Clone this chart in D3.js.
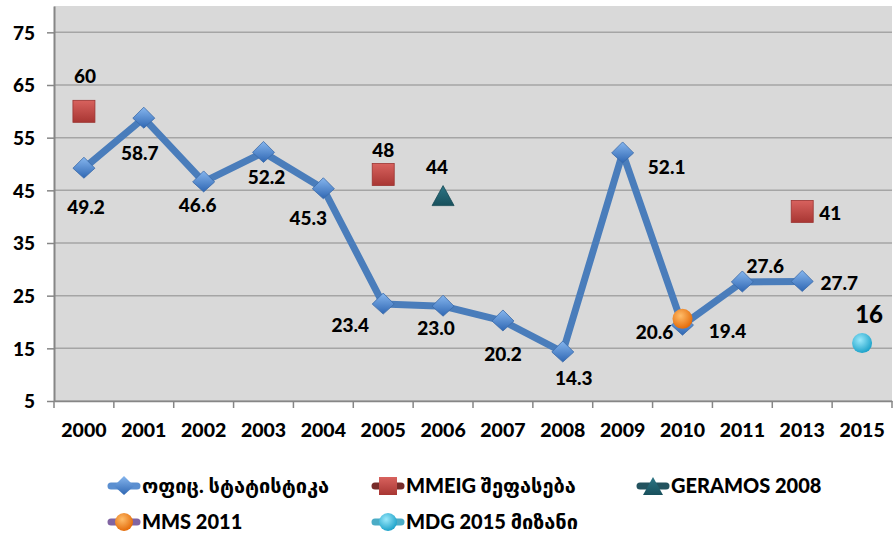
<!DOCTYPE html>
<html>
<head>
<meta charset="utf-8">
<script src="https://cdn.jsdelivr.net/npm/d3@7"></script>
<style>
  body { margin: 0; background: #fff; }
  svg text { font-family: "Lato", "DejaVu Sans", sans-serif; font-weight: 900; fill: #000; }
</style>
</head>
<body>
<svg id="chart" width="894" height="540"></svg>
<script>
// categories and values
const years = ["2000","2001","2002","2003","2004","2005","2006","2007","2008","2009","2010","2011","2013","2015"];
const official = [49.2, 58.7, 46.6, 52.2, 45.3, 23.4, 23.0, 20.2, 14.3, 52.1, 19.4, 27.6, 27.7, null];
const mmeigYears = ["2000","2005","2013"];
const mmeigValues = [60, 48, 41];
const geramosYears = ["2006"];
const geramosValues = [44];
const mmsYears = ["2010"];
const mmsValues = [20.6];
const mdgYears = ["2015"];
const mdgValues = [16];
const yTicks = [5, 15, 25, 35, 45, 55, 65, 75];

// label nudges (dx, dy from the marker), hand placed like the original
const officialLabelShift = [[2,39],[-4,35],[-6,23],[3,25],[-15,29],[-33,21],[-7,22],[0,33],[11,26],[44,14],[45,6],[23,-16],[37,2]];
const mmeigLabelShift = [[1,-35],[0,-24],[28,2]];

const svg = d3.select("#chart");
const x = d3.scaleBand().domain(years).range([54, 892]);
const y = d3.scaleLinear().domain([5, 80]).range([401, 6]);
const cx = d => x(d) + x.bandwidth() / 2;

const defs = svg.append("defs");
function lin(id, c1, c2) {
  const g = defs.append("linearGradient").attr("id", id).attr("x1", 0).attr("y1", 0).attr("x2", 0).attr("y2", 1);
  g.append("stop").attr("offset", "0%").attr("stop-color", c1);
  g.append("stop").attr("offset", "100%").attr("stop-color", c2);
}
function rad(id, c1, c2) {
  const g = defs.append("radialGradient").attr("id", id).attr("cx", "40%").attr("cy", "35%").attr("r", "65%");
  g.append("stop").attr("offset", "0%").attr("stop-color", c1);
  g.append("stop").attr("offset", "100%").attr("stop-color", c2);
}
lin("gBlue", "#86b6ee", "#2f67b3");
lin("gRed", "#d8625e", "#a83633");
lin("gTeal", "#2d7585", "#18505c");
rad("gOrange", "#ffbd6a", "#e46c0a");
rad("gCyan", "#9be9fb", "#1ea3ca");

// plot area
svg.append("rect").attr("x", 54).attr("y", 6).attr("width", 838).attr("height", 395).attr("fill", "#d9d9d9");

svg.append("g").selectAll("line").data(yTicks).join("line")
  .attr("x1", 54).attr("x2", 892).attr("y1", d => y(d)).attr("y2", d => y(d))
  .attr("stroke", "#a5a5a5").attr("stroke-width", 1.5);

// y axis
const yAxis = svg.append("g").attr("transform", "translate(54,0)")
  .call(d3.axisLeft(y).tickValues(yTicks).tickSize(7).tickSizeOuter(0).tickPadding(12));
yAxis.select(".domain").attr("stroke", "#868686").attr("stroke-width", 2);
yAxis.selectAll(".tick line").attr("stroke", "#868686").attr("stroke-width", 1.5);
yAxis.selectAll("text").style("font-size", "19px").attr("dy", "0.36em");

// x axis: labels centred, ticks at the category edges
const xAxis = svg.append("g").attr("transform", "translate(0,401)")
  .call(d3.axisBottom(x).tickSize(0).tickPadding(22));
xAxis.select(".domain").attr("stroke", "#868686").attr("stroke-width", 1.5);
xAxis.selectAll("text").style("font-size", "19.5px");
svg.append("g").selectAll("line").data(years.concat(["end"])).join("line")
  .attr("x1", (d, i) => 54 + i * x.step()).attr("x2", (d, i) => 54 + i * x.step())
  .attr("y1", 401).attr("y2", 408).attr("stroke", "#868686").attr("stroke-width", 1.5);

// official statistics line
const pts = years.map((yr, i) => ({ yr, v: official[i], i })).filter(d => d.v != null);
svg.append("path").datum(pts)
  .attr("d", d3.line().x(d => cx(d.yr)).y(d => y(d.v)))
  .attr("fill", "none").attr("stroke", "#4a7dbb").attr("stroke-width", 7).attr("stroke-linejoin", "round");

const diamond = "M0,-11 L11,0 L0,10 L-11,0 Z";
svg.append("g").selectAll("path").data(pts).join("path")
  .attr("transform", d => `translate(${cx(d.yr)},${y(d.v)})`)
  .attr("d", diamond).attr("fill", "url(#gBlue)").attr("stroke", "#3a6aa8").attr("stroke-width", 0.8);

svg.append("g").selectAll("text").data(pts).join("text")
  .attr("x", d => cx(d.yr) + officialLabelShift[d.i][0])
  .attr("y", d => y(d.v) + officialLabelShift[d.i][1])
  .attr("text-anchor", "middle").attr("dy", "0.36em").style("font-size", "19px")
  .text(d => d3.format(".1f")(d.v));

// MMEIG estimates
const mm = mmeigYears.map((yr, i) => ({ yr, v: mmeigValues[i], i }));
svg.append("g").selectAll("rect").data(mm).join("rect")
  .attr("x", d => cx(d.yr) - 11).attr("y", d => y(d.v) - 11).attr("width", 22).attr("height", 22)
  .attr("fill", "url(#gRed)").attr("stroke", "#9b3431").attr("stroke-width", 0.8);
svg.append("g").selectAll("text").data(mm).join("text")
  .attr("x", d => cx(d.yr) + mmeigLabelShift[d.i][0])
  .attr("y", d => y(d.v) + mmeigLabelShift[d.i][1])
  .attr("text-anchor", "middle").attr("dy", "0.36em").style("font-size", "19px")
  .text(d => d.v);

// GERAMOS 2008
const ge = geramosYears.map((yr, i) => ({ yr, v: geramosValues[i] }));
svg.append("g").selectAll("path").data(ge).join("path")
  .attr("transform", d => `translate(${cx(d.yr)},${y(d.v)})`)
  .attr("d", "M0,-10 L11,10 L-11,10 Z").attr("fill", "url(#gTeal)").attr("stroke", "#164a55").attr("stroke-width", 0.8);
svg.append("g").selectAll("text").data(ge).join("text")
  .attr("x", d => cx(d.yr) - 6).attr("y", d => y(d.v) - 28)
  .attr("text-anchor", "middle").attr("dy", "0.36em").style("font-size", "19px").text(d => d.v);

// MMS 2011
const ms = mmsYears.map((yr, i) => ({ yr, v: mmsValues[i] }));
svg.append("g").selectAll("circle").data(ms).join("circle")
  .attr("cx", d => cx(d.yr)).attr("cy", d => y(d.v)).attr("r", 10).attr("fill", "url(#gOrange)");
svg.append("g").selectAll("text").data(ms).join("text")
  .attr("x", d => cx(d.yr) - 28).attr("y", d => y(d.v) + 13)
  .attr("text-anchor", "middle").attr("dy", "0.36em").style("font-size", "19px").text(d => d.v.toFixed(1));

// MDG 2015 target
const md = mdgYears.map((yr, i) => ({ yr, v: mdgValues[i] }));
svg.append("g").selectAll("circle").data(md).join("circle")
  .attr("cx", d => cx(d.yr)).attr("cy", d => y(d.v)).attr("r", 10).attr("fill", "url(#gCyan)");
svg.append("g").selectAll("text").data(md).join("text")
  .attr("x", d => cx(d.yr) + 7).attr("y", d => y(d.v) - 29)
  .attr("text-anchor", "middle").attr("dy", "0.36em").style("font-size", "24px").text(d => d.v);

// legend
const legendItems = [
  { name: "ოფიც. სტატისტიკა", line: "#5b8fd0", shape: "diamond", fill: "url(#gBlue)", x: 108, y: 486 },
  { name: "MMEIG შეფასება", line: "#772c2a", shape: "square", fill: "url(#gRed)", x: 372, y: 486 },
  { name: "GERAMOS 2008", line: "#23535f", shape: "triangle", fill: "url(#gTeal)", x: 637, y: 486 },
  { name: "MMS 2011", line: "#8064a2", shape: "circle", fill: "url(#gOrange)", x: 108, y: 522 },
  { name: "MDG 2015 მიზანი", line: "#4bacc6", shape: "circle", fill: "url(#gCyan)", x: 372, y: 522 }
];
const lg = svg.append("g").selectAll("g").data(legendItems).join("g")
  .attr("transform", d => `translate(${d.x},${d.y})`);
lg.append("line").attr("x1", 3).attr("x2", 29).attr("y1", 0).attr("y2", 0)
  .attr("stroke", d => d.line).attr("stroke-width", 7).attr("stroke-linecap", "round");
lg.each(function(d) {
  const g = d3.select(this);
  if (d.shape === "diamond") g.append("path").attr("d", "M16,-10 L26,0 L16,9 L6,0 Z").attr("fill", d.fill);
  if (d.shape === "square") g.append("rect").attr("x", 7).attr("y", -9).attr("width", 18).attr("height", 18).attr("fill", d.fill);
  if (d.shape === "triangle") g.append("path").attr("d", "M16,-9 L26,9 L6,9 Z").attr("fill", d.fill);
  if (d.shape === "circle") g.append("circle").attr("cx", 16).attr("cy", 0).attr("r", 9).attr("fill", d.fill);
});
lg.append("text").attr("x", 34).attr("y", 0).attr("dy", "0.36em").style("font-size", "20px").text(d => d.name);
</script>
</body>
</html>
